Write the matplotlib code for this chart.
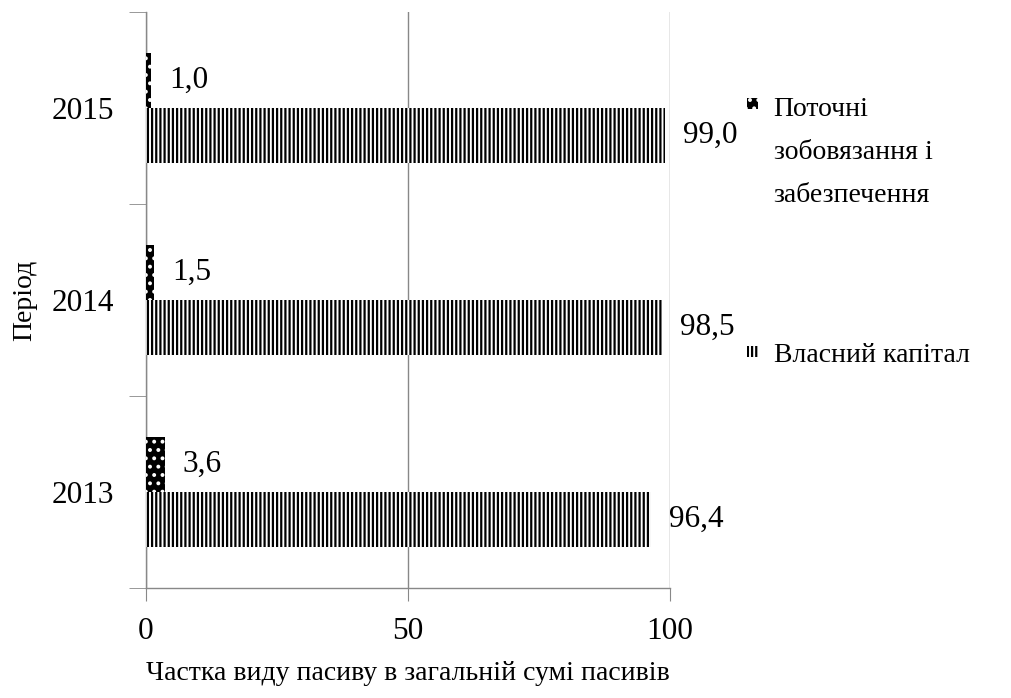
import matplotlib
matplotlib.use("Agg")
import matplotlib.pyplot as plt
from matplotlib.patches import Rectangle
from matplotlib.legend_handler import HandlerPatch
import numpy as np

periods = ["2013", "2014", "2015"]
current_liab = [3.6, 1.5, 1.0]
equity = [96.4, 98.5, 99.0]
series_names = ["Поточні\nзобовязання і\nзабезпечення", "Власний капітал"]
xticks = [0, 50, 100]
xlabel = "Частка виду пасиву в загальній сумі пасивів"
ylabel = "Період"

plt.rcParams['font.family'] = ['Liberation Serif', 'DejaVu Serif']
plt.rcParams['hatch.linewidth'] = 1.6
FS = 22.5
FT = 20

fig = plt.figure(figsize=(10.11, 6.98), dpi=100)
ax = fig.add_axes([146/1011, 1-588/698, (670-146)/1011, (588-12)/698])

y = np.arange(len(periods))
h = 0.286
b1 = ax.barh(y + h/2, current_liab, height=h, facecolor='black', edgecolor='white',
             linewidth=0, hatch='..', zorder=3)
b2 = ax.barh(y - h/2, equity, height=h, facecolor='white', edgecolor='black',
             linewidth=0, hatch='||||', zorder=3)

def fmt(v):
    return f"{v:.1f}".replace('.', ',')

for yi, v in zip(y + h/2, current_liab):
    ax.annotate(fmt(v), (v, yi), xytext=(13, 0), textcoords='offset points',
                ha='left', va='center', fontsize=FS)
for yi, v in zip(y - h/2, equity):
    ax.annotate(fmt(v), (v, yi), xytext=(13, 0), textcoords='offset points',
                ha='left', va='center', fontsize=FS)

ax.set_xlim(0, 100)
ax.set_ylim(-0.5, 2.5)
ax.set_xticks(xticks)
ax.set_xticklabels([str(t) for t in xticks], fontsize=FS)
ax.set_yticks(y)
ax.set_yticklabels(periods, fontsize=FS)
ax.set_yticks([-0.5, 0.5, 1.5, 2.5], minor=True)
ax.tick_params(axis='y', which='major', length=0, pad=23)
ax.tick_params(axis='y', which='minor', length=12, color='#888888', direction='out')
ax.tick_params(axis='x', which='major', length=9, pad=12, color='#888888', direction='out')
ax.grid(axis='x', color='#888888', linewidth=1, zorder=0)
for s in ['top', 'right']:
    ax.spines[s].set_visible(False)
for s in ['left', 'bottom']:
    ax.spines[s].set_color('#888888')
    ax.spines[s].set_linewidth(1)

ax.set_xlabel(xlabel, fontsize=FT, labelpad=11)
ax.set_ylabel(ylabel, fontsize=FT, labelpad=10)


class TopHandler(HandlerPatch):
    def __init__(self, shift=0, **kw):
        super().__init__(**kw)
        self.shift = shift

    def create_artists(self, legend, orig_handle, xdescent, ydescent, width, height,
                       fontsize, trans):
        s = 8
        p = Rectangle((0, height/2 - s/2 + self.shift), s, s,
                      facecolor=orig_handle.get_facecolor(),
                      edgecolor=orig_handle.get_edgecolor(),
                      hatch=orig_handle.get_hatch(), linewidth=0, transform=trans)
        return [p]

leg = fig.legend([b1.patches[0], b2.patches[0]], series_names,
                 loc='upper left', bbox_to_anchor=(725/1011, 1-75/698),
                 frameon=False, fontsize=FT, handlelength=0.45, handletextpad=0.5,
                 labelspacing=4.85, borderpad=0.3,
                 handler_map={b1.patches[0]: TopHandler(shift=35),
                              b2.patches[0]: TopHandler(shift=1)})
for t in leg.get_texts():
    t.set_linespacing(1.95)

fig.savefig("out.png", dpi=100)
